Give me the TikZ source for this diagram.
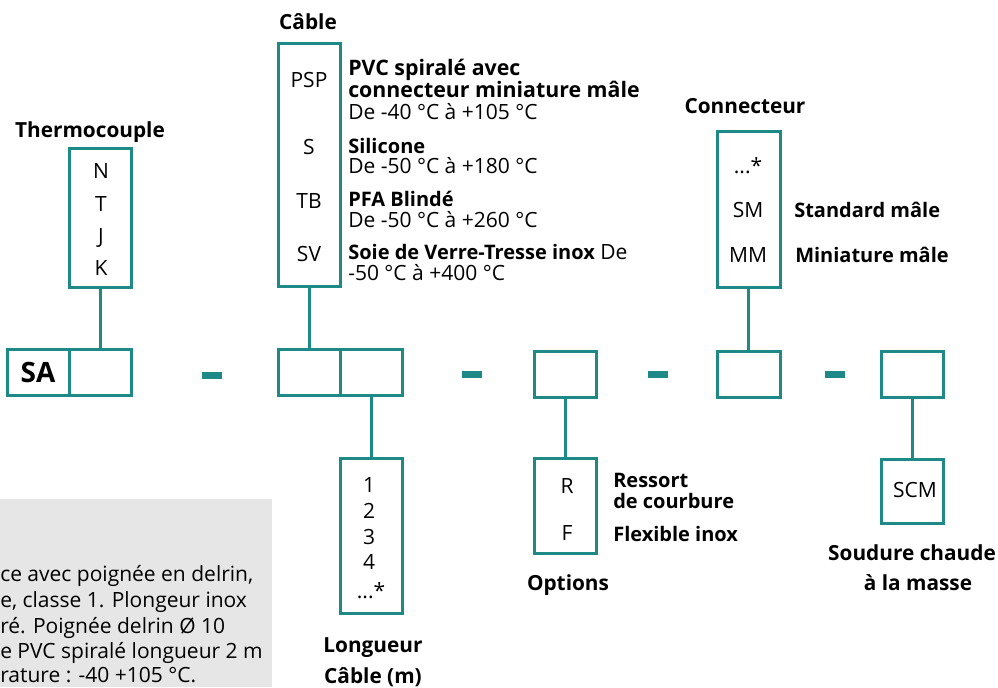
\documentclass[tikz,border=0pt]{standalone}
\usepackage{fontspec}
\setmainfont{Open Sans}
\definecolor{teal1}{HTML}{1E8A87}
\definecolor{greybg}{HTML}{E6E6E6}
\begin{document}
\begin{tikzpicture}[x=0.75pt, y=-0.75pt,
      every node/.style={inner sep=0pt, font=\fontsize{15.75}{17}\selectfont},
      box/.style 2 args={draw=teal1, line width=2.25pt, minimum width=#1*0.75pt, minimum height=#2*0.75pt},
      link/.style={draw=teal1, line width=2.25pt},
      hyphen/.style={fill=teal1, minimum width=15pt, minimum height=5.25pt},
      code/.style={anchor=base},
      title/.style={anchor=base, font=\fontsize{15.6}{17}\selectfont\bfseries},
      desc/.style={anchor=base west},
      descb/.style={anchor=base west, font=\fontsize{15}{17}\selectfont\bfseries},]
      \useasboundingbox (0,0) rectangle (998,687);
      % note
      \fill[greybg] (0,499) rectangle (272,687);
      \node[desc] (note1) at (0,581) {ce avec poignée en delrin,};
      \node[desc] (note2) at (0,607) {e, classe 1. Plongeur inox};
      \node[desc] (note3) at (0,633) {ré. Poignée delrin Ø 10};
      \node[desc] (note4) at (0,658) {e PVC spiralé longueur 2 m};
      \node[desc] (note5) at (0,682) {rature : -40 +105 °C.};
      % thermocouple
      \node[box={62}{46}, font=\fontsize{21}{24}\selectfont\bfseries] (sa) at (38,372) {SA};
      \node[box={62}{46}] (tc) at (100,372) {};
      \node[box={62}{139}] (tcbox) at (100,218) {};
      \draw[link] (tcbox) -- (tc);
      \node[title] (tctitle) at (90,137) {Thermocouple};
      \node[code] (tcn) at (101,178) {N};
      \node[code] (tct) at (101,211) {T};
      \node[code] (tcj) at (101,243) {J};
      \node[code] (tck) at (101,275) {K};
      \node[hyphen] (h1) at (212,375) {};
      % cable
      \node[box={62}{46}] (cab) at (309,372) {};
      \node[box={62}{46}] (len) at (371,372) {};
      \node[box={62}{243}] (cabbox) at (309,165) {};
      \draw[link] (cabbox) -- (cab);
      \node[title] (cabtitle) at (308,29) {Câble};
      \node[code] (psp) at (309,87) {PSP};
      \node[code] (s) at (309,154) {S};
      \node[code] (tb) at (309,208) {TB};
      \node[code] (sv) at (309,261) {SV};
      \node[descb, font=\fontsize{16}{17}\selectfont\bfseries] (psp1) at (348,75) {PVC spiralé avec};
      \node[descb, font=\fontsize{16}{17}\selectfont\bfseries] (psp2) at (348,97) {connecteur miniature mâle};
      \node[desc] (psp3) at (348,119) {De -40 °C à +105 °C};
      \node[descb] (s1) at (348,153) {Silicone};
      \node[desc] (s2) at (348,173) {De -50 °C à +180 °C};
      \node[descb] (tb1) at (348,206) {PFA Blindé};
      \node[desc] (tb2) at (348,227) {De -50 °C à +260 °C};
      \node[desc] (sv1) at (348,259) {{\fontsize{15}{17}\selectfont\bfseries Soie de Verre-Tresse inox} De};
      \node[desc] (sv2) at (348,280) {-50 °C à +400 °C};
      % length
      \node[box={62}{155}] (lenbox) at (371,536) {};
      \draw[link] (len) -- (lenbox);
      \node[code] (len1) at (369,492) {1};
      \node[code] (len2) at (369,518) {2};
      \node[code] (len3) at (369,544) {3};
      \node[code] (len4) at (369,569) {4};
      \node[code] (len5) at (371,598) {...*};
      \node[title] (lentitle1) at (373,652) {Longueur};
      \node[title] (lentitle2) at (373,683) {Câble (m)};
      \node[hyphen] (h2) at (472,374) {};
      % options
      \node[box={62}{46}] (opt) at (565,374) {};
      \node[box={62}{95}] (optbox) at (565,506) {};
      \draw[link] (opt) -- (optbox);
      \node[code] (optr) at (567,493) {R};
      \node[code] (optf) at (567,540) {F};
      \node[descb] (optr1) at (613,487) {Ressort};
      \node[descb] (optr2) at (613,508) {de courbure};
      \node[descb] (optf1) at (613,541) {Flexible inox};
      \node[title] (opttitle) at (568,590) {Options};
      \node[hyphen] (h3) at (658,374) {};
      % connector
      \node[box={63}{46}] (con) at (748.5,374) {};
      \node[box={63}{156}] (conbox) at (748.5,209) {};
      \draw[link] (conbox) -- (con);
      \node[title] (context) at (745,113) {Connecteur};
      \node[code] (conx) at (748,173) {...*};
      \node[code] (consm) at (748,217) {SM};
      \node[code] (conmm) at (748,262) {MM};
      \node[descb] (consm1) at (794,217) {Standard mâle};
      \node[descb] (conmm1) at (795,262) {Miniature mâle};
      \node[hyphen] (h4) at (835,374) {};
      % weld
      \node[box={62}{46}] (wld) at (912.5,374) {};
      \node[box={62}{64}] (wldbox) at (912.5,491) {};
      \draw[link] (wld) -- (wldbox);
      \node[code] (scm) at (915,497) {SCM};
      \node[title] (wldtitle1) at (912,560) {Soudure chaude};
      \node[title] (wldtitle2) at (918,590) {à la masse};
\end{tikzpicture}
\end{document}
